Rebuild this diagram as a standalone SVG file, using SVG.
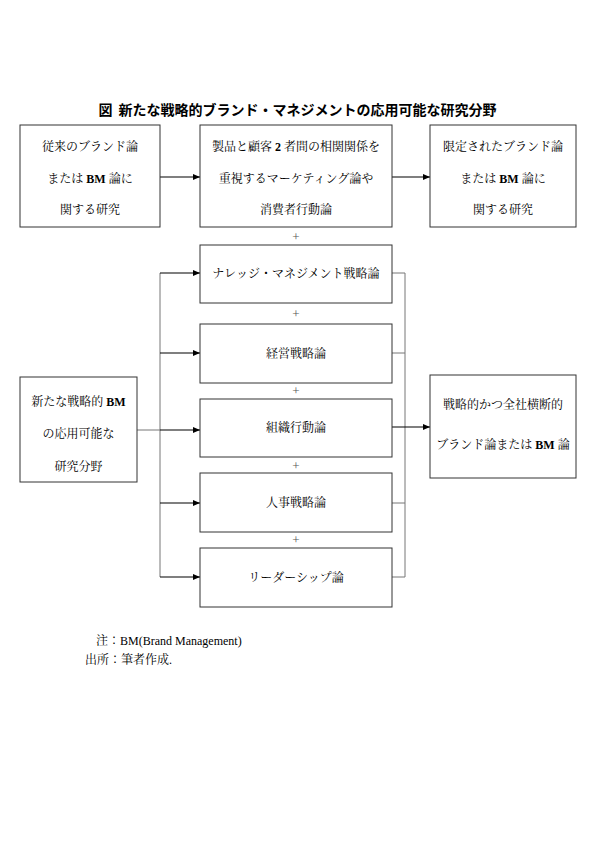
<svg xmlns="http://www.w3.org/2000/svg" width="595" height="841" viewBox="0 0 595 841">
<style>
.box{fill:#fff;stroke:#333;stroke-width:1}
.t{font-family:"Liberation Serif","Noto Serif CJK JP","Noto Sans CJK JP",serif;font-size:12px;fill:#000;text-anchor:middle}
.b{font-weight:bold}
.title{font-family:"Noto Sans CJK JP","Liberation Sans",sans-serif;font-size:14px;font-weight:bold;text-anchor:middle}
.plus{font-family:"Liberation Serif",serif;font-size:13px;fill:#555;text-anchor:middle}
.ln{stroke:#777;stroke-width:1;fill:none}
.ar{stroke:#000;stroke-width:1.2;fill:none;marker-end:url(#ah)}
.note{font-family:"Liberation Serif","Noto Serif CJK JP","Noto Sans CJK JP",serif;font-size:12px;fill:#000}
</style>
<defs>
<marker id="ah" markerWidth="7" markerHeight="6" refX="7" refY="3" orient="auto" markerUnits="userSpaceOnUse">
<path d="M0,0 L7,3 L0,6 Z" fill="#000"/>
</marker>
</defs>
<rect width="595" height="841" fill="#fff"/>
<text class="title" x="297.5" y="115">図<tspan dx="6">新たな戦略的ブランド・マネジメントの応用可能な研究分野</tspan></text>

<g id="connectors">
<line class="ar" x1="160" y1="177" x2="200" y2="177"/>
<line class="ar" x1="392" y1="177" x2="430" y2="177"/>
<line class="ln" x1="137" y1="430" x2="160" y2="430"/>
<line class="ln" x1="160" y1="273" x2="160" y2="577"/>
<line class="ar" x1="160" y1="273" x2="200" y2="273"/>
<line class="ar" x1="160" y1="353" x2="200" y2="353"/>
<line class="ar" x1="160" y1="430" x2="200" y2="430"/>
<line class="ar" x1="160" y1="503" x2="200" y2="503"/>
<line class="ar" x1="160" y1="577" x2="200" y2="577"/>
<line class="ln" x1="392" y1="273" x2="405" y2="273"/>
<line class="ln" x1="392" y1="353" x2="405" y2="353"/>
<line class="ln" x1="392" y1="503" x2="405" y2="503"/>
<line class="ln" x1="392" y1="577" x2="405" y2="577"/>
<line class="ln" x1="405" y1="273" x2="405" y2="577"/>
<line class="ar" x1="392" y1="427" x2="430" y2="427"/>
</g>

<g id="n-old">
<rect class="box" x="20" y="125" width="140" height="102"/>
<text class="t" x="90" y="150.5">従来のブランド論</text>
<text class="t" x="90" y="182.5">または <tspan class="b">BM</tspan> 論に</text>
<text class="t" x="90" y="213.5">関する研究</text>
</g>
<g id="n-marketing">
<rect class="box" x="200" y="125" width="192" height="102"/>
<text class="t" x="296" y="150.5">製品と顧客 <tspan class="b">2</tspan> 者間の相関関係を</text>
<text class="t" x="296" y="182.5">重視するマーケティング論や</text>
<text class="t" x="296" y="213.5">消費者行動論</text>
</g>
<g id="n-limited">
<rect class="box" x="430" y="125" width="146" height="102"/>
<text class="t" x="503" y="150.5">限定されたブランド論</text>
<text class="t" x="503" y="182.5">または <tspan class="b">BM</tspan> 論に</text>
<text class="t" x="503" y="213.5">関する研究</text>
</g>
<text class="plus" x="296" y="240.5">+</text>
<g id="n-km">
<rect class="box" x="200" y="245" width="192" height="58"/>
<text class="t" x="296" y="278">ナレッジ・マネジメント戦略論</text>
</g>
<text class="plus" x="296" y="317.5">+</text>
<g id="n-mgmt">
<rect class="box" x="200" y="324" width="192" height="59"/>
<text class="t" x="296" y="357.5">経営戦略論</text>
</g>
<text class="plus" x="296" y="394.5">+</text>
<g id="n-ob">
<rect class="box" x="200" y="399" width="192" height="58"/>
<text class="t" x="296" y="432">組織行動論</text>
</g>
<text class="plus" x="296" y="469.5">+</text>
<g id="n-hr">
<rect class="box" x="200" y="473" width="192" height="59"/>
<text class="t" x="296" y="506.5">人事戦略論</text>
</g>
<text class="plus" x="296" y="543.5">+</text>
<g id="n-lead">
<rect class="box" x="200" y="548" width="192" height="59"/>
<text class="t" x="296" y="581.5">リーダーシップ論</text>
</g>
<g id="n-new">
<rect class="box" x="20" y="377" width="117" height="105"/>
<text class="t" x="78.5" y="406">新たな戦略的 <tspan class="b">BM</tspan></text>
<text class="t" x="78.5" y="437.5">の応用可能な</text>
<text class="t" x="78.5" y="471">研究分野</text>
</g>
<g id="n-strategic">
<rect class="box" x="430" y="375" width="146" height="103"/>
<text class="t" x="503" y="408.5">戦略的かつ全社横断的</text>
<text class="t" x="503" y="448.5">ブランド論または <tspan class="b">BM</tspan> 論</text>
</g>
<text class="note" x="96" y="645">注：BM(Brand Management)</text>
<text class="note" x="85" y="663.5">出所：筆者作成.</text>
</svg>
